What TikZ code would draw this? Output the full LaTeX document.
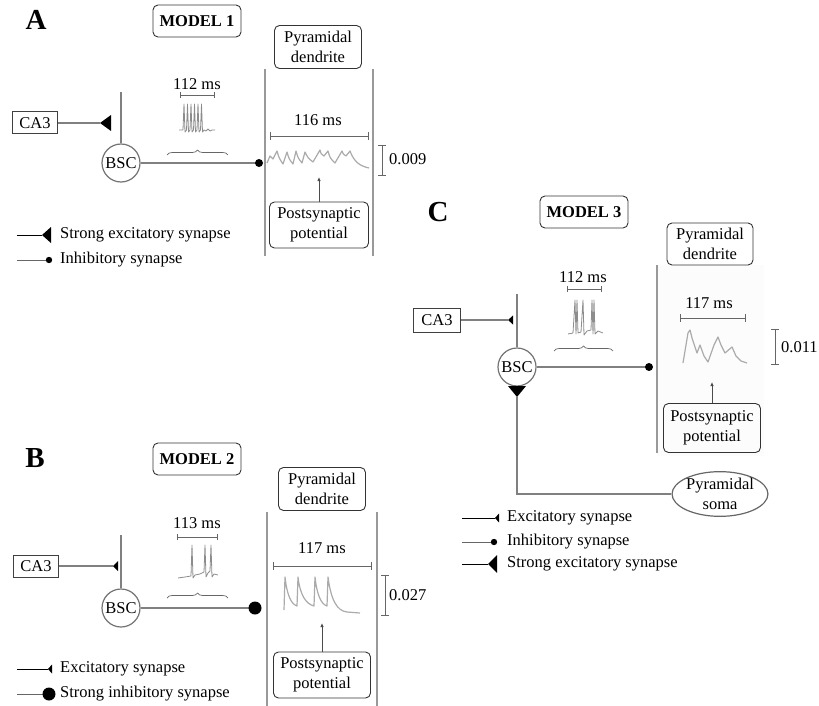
\documentclass[tikz,border=0pt]{standalone}
\usepackage{fontspec}
\setmainfont{Liberation Serif}
\usetikzlibrary{arrows.meta,decorations.pathreplacing,shapes.geometric}
\begin{document}
\begin{tikzpicture}[x=1pt,y=-1pt,
  every node/.style={font=\fontsize{16.5}{20}\selectfont, inner sep=0pt},
  rbox/.style={draw=black!80, line width=0.9pt, rounded corners=5pt, align=center},
  sqbox/.style={draw=black!75, line width=1pt, minimum width=45, minimum height=22},
  cell/.style={circle, draw=black!55, line width=1.2pt, fill=white, minimum size=38},
  conn/.style={draw=black!50, line width=1.5pt},
  dend/.style={draw=black!40, line width=2pt},
  bar/.style={draw=black!60, line width=0.8pt},
  trace/.style={draw=black!33, line width=1.2pt, line join=round},
  spk/.style={draw=black!45, line width=0.8pt, line join=round},
  lg/.style={draw=black, line width=1pt},
  lgi/.style={draw=black!60, line width=1pt},
  ptr/.style={draw=black!70, line width=0.9pt, -{Latex[length=4pt,width=3.5pt]}},
  panel/.style={font=\bfseries\fontsize{29}{30}\selectfont},
  ttl/.style={rbox, font=\bfseries\fontsize{16.5}{20}\selectfont, minimum width=88, minimum height=32},
  brc/.style={draw=black!60, line width=0.7pt, decorate, decoration={brace, amplitude=5pt}},
]
\useasboundingbox (0,0) rectangle (819,706);

% ================= Panel A =================
\node[panel] (labA) at (36,20) {A};
\node[ttl] (m1) at (197,21) {MODEL 1};
\node[rbox, minimum width=87, minimum height=43] (pdA) at (318,47) {Pyramidal\\dendrite};
\coordinate (dA1t) at (265,69); \coordinate (dA1b) at (265,256);
\coordinate (dA2t) at (373,69); \coordinate (dA2b) at (373,256);
\draw[dend] (dA1t) -- (dA1b);
\draw[dend] (dA2t) -- (dA2b);

\node[sqbox] (ca3A) at (35,123) {CA3};
\node[cell] (bscA) at (121,163) {BSC};
\coordinate (axA) at (121,92);
\draw[conn] (axA) -- (bscA);
\coordinate (exA) at (100,123);
\draw[conn] (ca3A) -- (exA);
\fill (exA) -- ++(11,-8) -- ++(0,16) -- cycle;
\coordinate (inA) at (259,163);
\draw[conn] (bscA) -- (inA);
\fill (inA) circle (4);

\node (tA1) at (197,84) {112 ms};
\draw[bar] (180,92) -- (180,98) (180,95) -- (214,95) (214,92) -- (214,98);
\draw[spk] (179,130) -- (183,130) -- (184,104) -- (185,132) -- (186.5,130) -- (187.5,104) -- (188.5,132) -- (190,130) -- (191,104) -- (192,132) -- (193.5,130) -- (194.5,104) -- (195.5,132) -- (197,130) -- (198,104) -- (199,132) -- (200.5,130) -- (201.5,104) -- (202.5,132) -- (204,130) -- (206,131) -- (208,129) -- (210,131) -- (212,130) -- (215,130);
\draw[brc] (167,155) -- (228,155);

\node (tA2) at (318,120) {116 ms};
\draw[bar] (270,132) -- (270,140) (270,136) -- (368,136) (368,132) -- (368,140);
\draw[trace] (267,163) -- (270,156) .. controls (271,157) .. (273,159) -- (277,151) .. controls (279,158) .. (283,164) -- (287,152) .. controls (289,159) .. (293,164) -- (296,151) .. controls (298,158) .. (302,163) -- (305,152) .. controls (308,158) .. (313,162) -- (320,150) .. controls (321,154) .. (324,156) -- (328,151) .. controls (330,158) .. (335,163) -- (342,151) .. controls (343,154) .. (346,156) -- (350,151) .. controls (354,162) and (360,166) .. (369,168);
\draw[bar] (378,145) -- (386,145) (382,145) -- (382,175) (378,175) -- (386,175);
\node[anchor=west] (vA) at (389,159) {0.009};

\node[rbox, minimum width=99, minimum height=46] (psA) at (319,225) {Postsynaptic\\potential};
\coordinate (pA) at (319,177);
\draw[ptr] (psA.north) -- (pA);

\coordinate (lA1a) at (17,235); \coordinate (lA1b) at (42,235);
\draw[lg] (lA1a) -- (lA1b);
\fill (lA1b) -- ++(9,-8) -- ++(0,16) -- cycle;
\node[anchor=west] (tlA1) at (60,235) {Strong excitatory synapse};
\coordinate (lA2a) at (17,260); \coordinate (lA2b) at (49,260);
\draw[lgi] (lA2a) -- (lA2b);
\fill (lA2b) circle (3.2);
\node[anchor=west] (tlA2) at (60,260) {Inhibitory synapse};

% ================= Panel B =================
\node[panel] (labB) at (35,458) {B};
\node[ttl] (m2) at (197,459) {MODEL 2};
\node[rbox, minimum width=87, minimum height=43] (pdB) at (322,489) {Pyramidal\\dendrite};
\coordinate (dB1t) at (267,512); \coordinate (dB1b) at (267,706);
\coordinate (dB2t) at (377,512); \coordinate (dB2b) at (377,706);
\draw[dend] (dB1t) -- (dB1b);
\draw[dend] (dB2t) -- (dB2b);

\node[sqbox] (ca3B) at (36,566) {CA3};
\node[cell] (bscB) at (121,608) {BSC};
\coordinate (axB) at (121,535);
\draw[conn] (axB) -- (bscB);
\coordinate (exB) at (113,566);
\draw[conn] (ca3B) -- (exB);
\fill (exB) -- ++(5,-5) -- ++(0,10) -- cycle;
\coordinate (inB) at (255,608);
\draw[conn] (bscB) -- (inB);
\fill (inB) circle (6.5);

\node (tB1) at (197,523) {113 ms};
\draw[bar] (177,534) -- (177,540) (177,537) -- (217,537) (217,534) -- (217,540);
\draw[spk] (178,578) -- (185,577) -- (191,576) -- (192,545) -- (193,578) -- (195,575) -- (200,574) -- (204,572) -- (205,545) -- (206,577) -- (208,573) -- (210,571) -- (211,545) -- (212,577) -- (214,574) -- (218,575);
\draw[brc] (167,598) -- (228,598);

\node (tB2) at (322,548) {117 ms};
\draw[bar] (273,562) -- (273,570) (273,566) -- (371,566) (371,562) -- (371,570);
\draw[trace] (284,610) -- (285,577) .. controls (287,595) and (291,604) .. (297,606) -- (298,577) .. controls (300,595) and (306,604) .. (314,606) -- (315,577) .. controls (317,595) and (321,604) .. (327,606) -- (328,577) .. controls (331,600) and (337,611) .. (347,612) -- (360,613);
\draw[bar] (381,575) -- (389,575) (385,575) -- (385,615) (381,615) -- (389,615);
\node[anchor=west] (vB) at (389,595) {0.027};

\node[rbox, minimum width=97, minimum height=46] (psB) at (322,675) {Postsynaptic\\potential};
\coordinate (pB) at (322,623);
\draw[ptr] (psB.north) -- (pB);

\coordinate (lB1a) at (17,669); \coordinate (lB1b) at (48,669);
\draw[lg] (lB1a) -- (lB1b);
\fill (lB1b) -- ++(4,-4.5) -- ++(0,9) -- cycle;
\node[anchor=west] (tlB1) at (60,669) {Excitatory synapse};
\coordinate (lB2a) at (17,694); \coordinate (lB2b) at (49,694);
\draw[lgi] (lB2a) -- (lB2b);
\fill (lB2b) circle (6.5);
\node[anchor=west] (tlB2) at (60,694) {Strong inhibitory synapse};

% ================= Panel C =================
\node[panel] (labC) at (438,212) {C};
\node[ttl] (m3) at (584,212) {MODEL 3};
\fill[black!1] (657,265) rectangle (764,456);
\node[rbox, minimum width=86, minimum height=42, fill=white] (pdC) at (710,244) {Pyramidal\\dendrite};
\coordinate (dCt) at (657,265); \coordinate (dCb) at (657,453);
\draw[dend] (dCt) -- (dCb);

\node[sqbox, minimum width=47, minimum height=24] (ca3C) at (437,320) {CA3};
\node[cell] (bscC) at (517,367) {BSC};
\coordinate (axC) at (517,294);
\draw[conn] (axC) -- (bscC);
\coordinate (exC) at (508,320);
\draw[conn] (ca3C) -- (exC);
\fill (exC) -- ++(5,-4.5) -- ++(0,9) -- cycle;
\coordinate (inC) at (649,367);
\draw[conn] (bscC) -- (inC);
\fill (inC) circle (4);

\node[ellipse, draw=black!60, line width=1.2pt, fill=white, minimum width=88, minimum height=42, align=center] (soma) at (720,494) {Pyramidal\\soma};
\coordinate (sxC) at (517,397);
\draw[conn] (soma.west) -| (sxC);
\fill (sxC) -- ++(-9,-11) -- ++(18,0) -- cycle;

\node (tC1) at (583,277) {112 ms};
\draw[bar] (567,286) -- (567,292) (567,289) -- (601,289) (601,286) -- (601,292);
\draw[spk] (568,334) -- (573,333) -- (575,300) -- (576,334) -- (577,300) -- (578,333) -- (581,332) -- (583,300) -- (584,335) -- (587,331) -- (591,330) -- (592,300) -- (593,334) -- (594,300) -- (595,334) -- (598,331) -- (603,333);
\draw[brc] (554,351) -- (613,351);

\node (tC2) at (709,303) {117 ms};
\draw[bar] (680,314) -- (680,322) (680,318) -- (745,318) (745,314) -- (745,322);
\draw[trace] (683,363) -- (688,333) -- (690,330) -- (692,338) -- (697,353) -- (700,345) -- (704,356) -- (708,362) -- (714,345) -- (718,337) -- (721,345) -- (725,353) -- (732,347) -- (736,356) -- (741,361) -- (747,363);
\draw[bar] (771,329) -- (779,329) (775,329) -- (775,364) (771,364) -- (779,364);
\node[anchor=west] (vC) at (781,347) {0.011};

\node[rbox, minimum width=97, minimum height=49] (psC) at (712,428) {Postsynaptic\\potential};
\coordinate (pC) at (712,382);
\draw[ptr] (psC.north) -- (pC);

\coordinate (lC1a) at (462,518); \coordinate (lC1b) at (495,518);
\draw[lg] (lC1a) -- (lC1b);
\fill (lC1b) -- ++(4,-4.5) -- ++(0,9) -- cycle;
\node[anchor=west] (tlC1) at (507,518) {Excitatory synapse};
\coordinate (lC2a) at (462,542); \coordinate (lC2b) at (494,542);
\draw[lgi] (lC2a) -- (lC2b);
\fill (lC2b) circle (3.2);
\node[anchor=west] (tlC2) at (507,542) {Inhibitory synapse};
\coordinate (lC3a) at (462,564); \coordinate (lC3b) at (488,564);
\draw[lg] (lC3a) -- (lC3b);
\fill (lC3b) -- ++(9,-9) -- ++(0,18) -- cycle;
\node[anchor=west] (tlC3) at (507,564) {Strong excitatory synapse};
\end{tikzpicture}
\end{document}
